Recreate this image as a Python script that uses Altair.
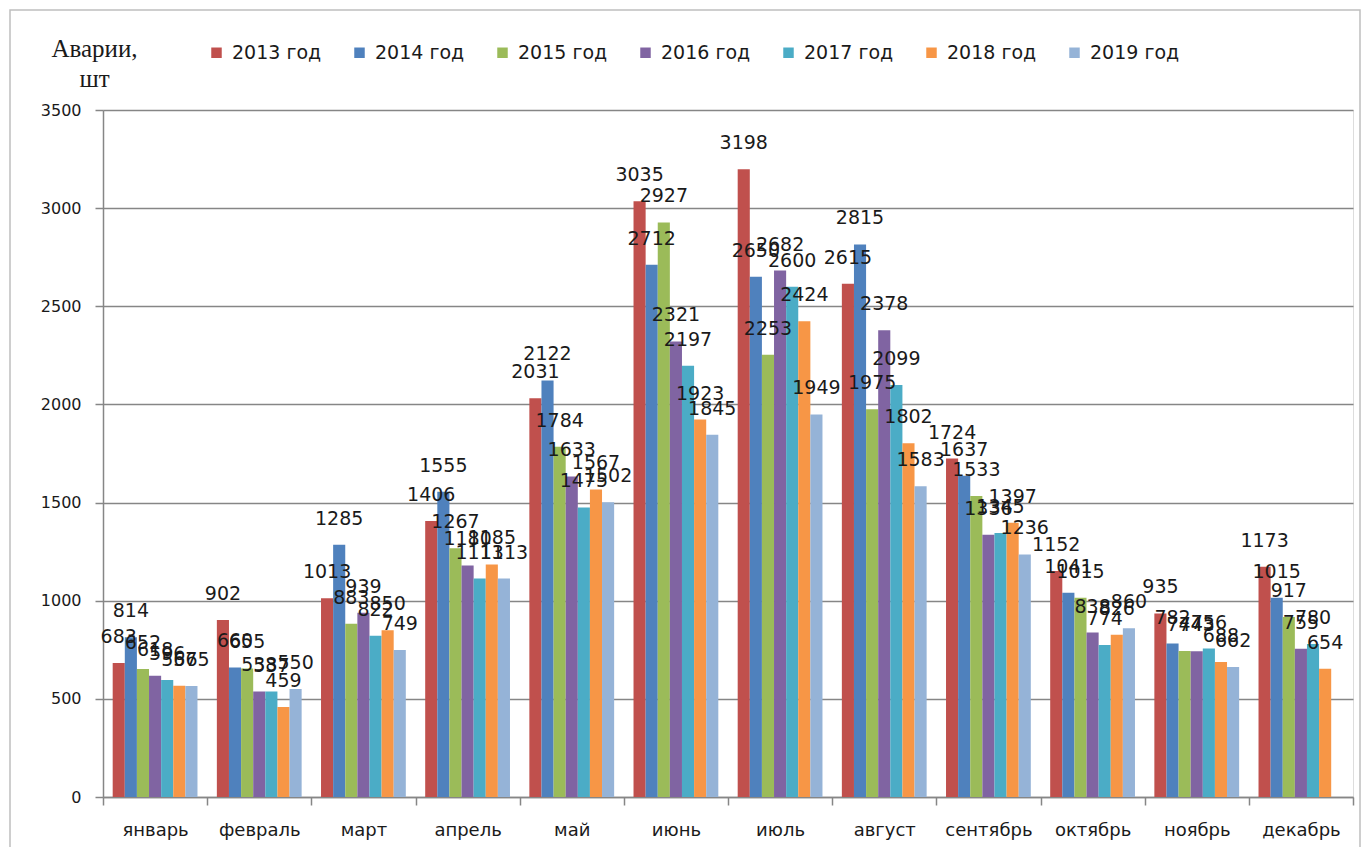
import altair as alt
import pandas as pd

months = ["январь", "февраль", "март", "апрель", "май", "июнь",
          "июль", "август", "сентябрь", "октябрь", "ноябрь", "декабрь"]
years = ["2013 год", "2014 год", "2015 год", "2016 год", "2017 год", "2018 год", "2019 год"]
colors = ["#C0504D", "#4F81BD", "#9BBB59", "#8064A2", "#4BACC6", "#F79646", "#95B3D7"]

v2013 = [683, 902, 1013, 1406, 2031, 3035, 3198, 2615, 1724, 1152, 935, 1173]
v2014 = [814, 660, 1285, 1555, 2122, 2712, 2650, 2815, 1637, 1041, 782, 1015]
v2015 = [652, 655, 883, 1267, 1784, 2927, 2253, 1975, 1533, 1015, 744, 917]
v2016 = [618, 538, 939, 1180, 1633, 2321, 2682, 2378, 1336, 838, 743, 755]
v2017 = [596, 537, 822, 1113, 1475, 2197, 2600, 2099, 1345, 774, 756, 780]
v2018 = [567, 459, 850, 1185, 1567, 1923, 2424, 1802, 1397, 826, 688, 654]
v2019 = [565, 550, 749, 1113, 1502, 1845, 1949, 1583, 1236, 860, 662, None]

series = [v2013, v2014, v2015, v2016, v2017, v2018, v2019]
rows = []
for y, vals in zip(years, series):
    for m, v in zip(months, vals):
        if v is not None:
            rows.append({"month": m, "year": y, "value": v})
df = pd.DataFrame(rows)

FONT = "DejaVu Sans"

x = alt.X("month:N", sort=months, title=None,
          scale=alt.Scale(paddingInner=0, paddingOuter=0),
          axis=alt.Axis(labelAngle=0, labelFont=FONT, labelFontSize=18, labelColor="#1a1a1a",
                        labelPadding=16, tickSize=8, tickBand="extent", tickColor="#868686",
                        domainColor="#868686", domainWidth=1.5, tickWidth=1.5, grid=False))
xo = alt.XOffset("year:N", sort=years, scale=alt.Scale(paddingInner=0, paddingOuter=0.8))
y = alt.Y("value:Q", scale=alt.Scale(domain=[0, 3500], nice=False),
          axis=alt.Axis(values=list(range(0, 3501, 500)), format="d", title=["Аварии,", "шт"],
                        titleAngle=0, titleFont="Liberation Serif", titleFontSize=25,
                        titleFontWeight="normal", titleColor="#1a1a1a", titleAlign="center",
                        titleX=-9, titleY=-54, titleLineHeight=30, titleBaseline="alphabetic",
                        labelFont=FONT, labelFontSize=16, labelColor="#1a1a1a", labelPadding=14,
                        tickSize=8, tickColor="#868686", domainColor="#868686", domainWidth=1.5,
                        tickWidth=1.5, gridColor="#868686", gridWidth=1.5))

color = alt.Color("year:N", sort=years, title=None,
                  scale=alt.Scale(domain=years, range=colors),
                  legend=alt.Legend(orient="none", legendX=104, legendY=-67, direction="horizontal",
                                    columns=7, symbolType="square", symbolSize=110,
                                    symbolStrokeWidth=0, labelFont=FONT, labelFontSize=19,
                                    labelColor="#1a1a1a", labelOffset=6, columnPadding=28,
                                    labelLimit=200))

bars = alt.Chart(df).mark_bar().encode(x=x, xOffset=xo, y=y, color=color)
labels = alt.Chart(df).mark_text(font=FONT, fontSize=19, color="#1a1a1a", baseline="alphabetic",
                                 dy=-20).encode(x=x, xOffset=xo, y=y, text="value:Q")

frame = alt.Chart(pd.DataFrame({"a": [0]})).mark_rect(
    fill=None, stroke="#bfbfbf", strokeWidth=1.5).encode(
    x=alt.value(-93), x2=alt.value(1257), y=alt.value(-100), y2=alt.value(742))

chart = alt.layer(frame, bars, labels).properties(
    width=1250, height=687,
    autosize=alt.AutoSizeParams(type="none"),
    padding={"left": 95, "top": 102, "right": 8, "bottom": 50},
).configure_view(stroke=None).configure(background="white")

chart.save("out.html", embed_options={"renderer": "svg", "actions": False})
